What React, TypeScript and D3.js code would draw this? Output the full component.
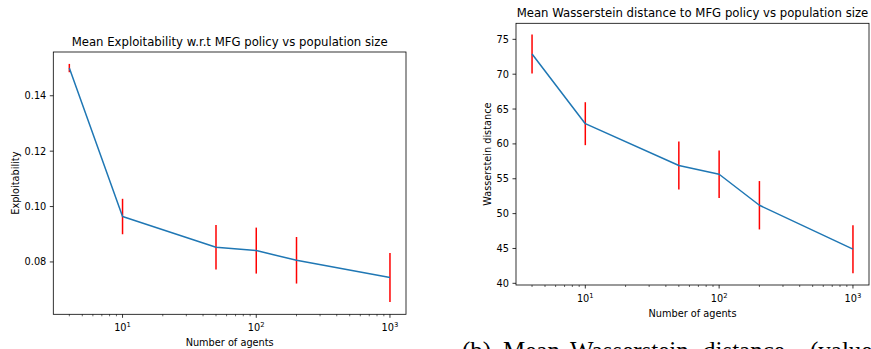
import React from "react";
import * as d3 from "d3";

const agents = [4, 10, 50, 100, 200, 1000];
const exploitMean = [0.1500, 0.0964, 0.0853, 0.0841, 0.0806, 0.0744];
const exploitErr = [0.0015, 0.0064, 0.0080, 0.0083, 0.0084, 0.00885];
const wassMean = [72.9, 62.9, 56.9, 55.65, 51.2, 44.9];
const wassErr = [2.8, 3.08, 3.44, 3.4, 3.47, 3.44];
const exploitTicks = [0.08, 0.10, 0.12, 0.14];
const wassTicks = [40, 45, 50, 55, 60, 65, 70, 75];
const xMajorTicks = [10, 100, 1000];
const xMinorTicks = [4, 5, 6, 7, 8, 9, 20, 30, 40, 50, 60, 70, 80, 90, 200, 300, 400, 500, 600, 700, 800, 900];
const captionWords = ["(b)", "Mean", "Wasserstein", "distance", "(value"];
const captionX = [462, 503, 570, 703, 810];

const FONT = "DejaVu Sans, sans-serif";
const FS = 9.75;

type PanelProps = {
  left: number; top: number; width: number; height: number;
  title: string; ylabel: string; ylabelX: number;
  ydomain: [number, number]; yticks: number[]; yfmt: (v: number) => string;
  means: number[]; errs: number[];
};

function Panel(p: PanelProps) {
  const logMin = Math.log10(agents[0]);
  const logMax = Math.log10(agents[agents.length - 1]);
  const m = (logMax - logMin) * 0.05;
  const x = d3.scaleLog().domain([Math.pow(10, logMin - m), Math.pow(10, logMax + m)]).range([p.left, p.left + p.width]);
  const y = d3.scaleLinear().domain(p.ydomain).range([p.top + p.height, p.top]);
  const bottom = p.top + p.height;
  const line = d3.line<number>().x((_, i) => x(agents[i])).y((d) => y(d));
  const sup: Record<number, string> = { 10: "1", 100: "2", 1000: "3" };
  return (
    <g>
      <text x={p.left + p.width / 2} y={p.top - 6} textAnchor="middle" fontFamily={FONT} fontSize={11.7} fill="#000">{p.title}</text>
      {agents.map((a, i) => (
        <line key={"e" + i} x1={x(a)} x2={x(a)} y1={y(p.means[i] - p.errs[i])} y2={y(p.means[i] + p.errs[i])} stroke="#ff0000" strokeWidth={1.5} />
      ))}
      <path d={line(p.means) || ""} fill="none" stroke="#1f77b4" strokeWidth={1.5} strokeLinejoin="round" />
      <rect x={p.left} y={p.top} width={p.width} height={p.height} fill="none" stroke="#000" strokeWidth={0.8} />
      {p.yticks.map((t) => (
        <g key={"y" + t}>
          <line x1={p.left - 3.5} x2={p.left} y1={y(t)} y2={y(t)} stroke="#000" strokeWidth={0.8} />
          <text x={p.left - 7} y={y(t)} dy="0.36em" textAnchor="end" fontFamily={FONT} fontSize={FS} fill="#000">{p.yfmt(t)}</text>
        </g>
      ))}
      {xMinorTicks.map((t) => (
        <line key={"m" + t} x1={x(t)} x2={x(t)} y1={bottom} y2={bottom + 2} stroke="#000" strokeWidth={0.6} />
      ))}
      {xMajorTicks.map((t) => (
        <g key={"x" + t}>
          <line x1={x(t)} x2={x(t)} y1={bottom} y2={bottom + 3.5} stroke="#000" strokeWidth={0.8} />
          <text x={x(t)} y={bottom + 17} textAnchor="middle" fontFamily={FONT} fontSize={FS} fill="#000">
            10<tspan fontSize={FS * 0.7} dy={-4}>{sup[t]}</tspan>
          </text>
        </g>
      ))}
      <text x={p.left + p.width / 2} y={bottom + 32} textAnchor="middle" fontFamily={FONT} fontSize={FS} fill="#000">Number of agents</text>
      <text transform={`translate(${p.ylabelX},${p.top + p.height / 2}) rotate(-90)`} textAnchor="middle" fontFamily={FONT} fontSize={FS} fill="#000">{p.ylabel}</text>
    </g>
  );
}

export default function App() {
  return (
    <svg width={871} height={349} style={{ position: "absolute", left: 0, top: 0, background: "#fff" }}>
      <rect x={0} y={0} width={871} height={349} fill="#fff" />
      <Panel left={53.3} top={52} width={352.7} height={262.3}
        title="Mean Exploitability w.r.t MFG policy vs population size"
        ylabel="Exploitability" ylabelX={18.5}
        ydomain={[0.0611, 0.1558]} yticks={exploitTicks} yfmt={(v) => v.toFixed(2)}
        means={exploitMean} errs={exploitErr} />
      <Panel left={516} top={23.3} width={353} height={261.7}
        title="Mean Wasserstein distance to MFG policy vs population size"
        ylabel="Wasserstein distance" ylabelX={490.5}
        ydomain={[39.76, 77.3]} yticks={wassTicks} yfmt={(v) => String(v)}
        means={wassMean} errs={wassErr} />
      <text y={358.5} fontFamily="Liberation Serif, serif" fontSize={25} fill="#000">
        {captionWords.map((w, i) => (
          <tspan key={w} x={captionX[i]}>{w}</tspan>
        ))}
      </text>
    </svg>
  );
}
